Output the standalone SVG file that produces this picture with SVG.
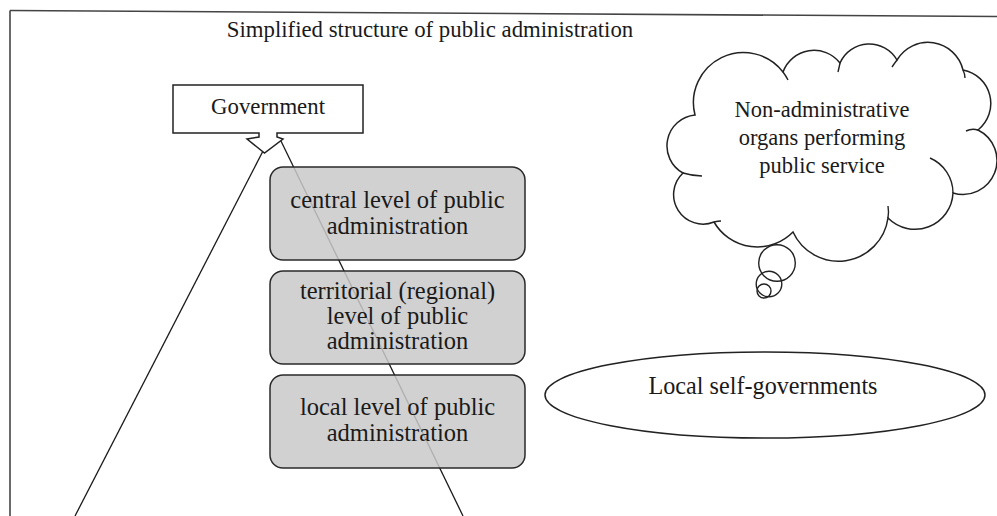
<svg xmlns="http://www.w3.org/2000/svg" width="997" height="516" viewBox="0 0 997 516">
  <style>
    .txt { font-family: "Liberation Serif", "Times New Roman", serif; fill: #1a1a1a; text-anchor: middle; }
    .frame { stroke: #444; stroke-width: 1.6; fill: none; }
    .conn { stroke: #1a1a1a; stroke-width: 1.3; fill: none; }
    .outline { stroke: #222; stroke-width: 1.5; fill: #fff; }
    .level { stroke: #2a2a2a; stroke-width: 1.5; fill: #c9c9c9; fill-opacity: 0.85; }
    .thin { stroke: #222; stroke-width: 1.4; fill: none; }
  </style>

  <rect width="997" height="516" fill="#fff"/>

  <!-- page frame -->
  <g id="frame">
    <line class="frame" x1="10" y1="10.5" x2="997" y2="16.5"/>
    <line class="frame" x1="10" y1="10.5" x2="10" y2="516"/>
  </g>

  <text class="txt" x="430" y="37" font-size="22.8">Simplified structure of public administration</text>

  <!-- connectors fanning out from the Government arrow -->
  <g id="connectors">
    <line class="conn" x1="75" y1="516" x2="263" y2="151"/>
    <line class="conn" x1="463" y1="516" x2="280" y2="139"/>
  </g>

  <g id="government">
    <path class="outline" d="M173,85 H363 V133 H277 V137 L283,139 L264.5,153 L247,139 L259,137 V133 H173 Z"/>
    <text class="txt" x="268" y="114" font-size="22.8">Government</text>
  </g>

  <g id="central-level">
    <rect class="level" x="270" y="167" width="255" height="93" rx="13"/>
    <text class="txt" x="397.5" y="208" font-size="24.5">central level of public</text>
    <text class="txt" x="397.5" y="234" font-size="24.5">administration</text>
  </g>

  <g id="territorial-level">
    <rect class="level" x="270" y="271" width="255" height="93" rx="13"/>
    <text class="txt" x="397.5" y="299" font-size="24.5">territorial (regional)</text>
    <text class="txt" x="397.5" y="324" font-size="24.5">level of public</text>
    <text class="txt" x="397.5" y="349" font-size="24.5">administration</text>
  </g>

  <g id="local-level">
    <rect class="level" x="270" y="375" width="255" height="93" rx="13"/>
    <text class="txt" x="397.5" y="415" font-size="24.5">local level of public</text>
    <text class="txt" x="397.5" y="441" font-size="24.5">administration</text>
  </g>

  <g id="non-administrative-organs">
    <path class="outline" d="M695,115 A50,50 0 0 1 783,72 A33,33 0 0 1 840,63 A32,32 0 0 1 897,60 A36,36 0 0 1 963,70 A34,34 0 0 1 978,130 A34,34 0 0 1 953,193 A38,38 0 0 1 888,218 A50,50 0 0 1 793,232 A50,50 0 0 1 714,222 A29.5,29.5 0 0 1 683,173 A31,31 0 0 1 695,115 Z"/>
    <!-- inner hooks of the cloud bumps -->
    <path class="thin" d="M683,173 Q693,176 702,176"/>
    <path class="thin" d="M953,193 A38,38 0 0 0 930,158"/>
    <path class="thin" d="M783,72 Q786,76 788,80"/>
    <path class="thin" d="M840,63 Q839,68 838,72"/>
    <path class="thin" d="M897,60 Q894,64 892,67"/>
    <path class="thin" d="M963,70 Q965,74 965,78"/>
    <path class="thin" d="M978,130 Q972,128 966,131"/>
    <path class="thin" d="M888,218 Q889,212 888,206"/>
    <path class="thin" d="M714,222 Q718,221 721,221"/>
    <circle class="thin" cx="777" cy="263" r="18.3"/>
    <circle class="thin" cx="769" cy="284" r="12.8"/>
    <circle class="thin" cx="764" cy="291" r="7"/>
    <text class="txt" x="822" y="117" font-size="22.5">Non-administrative</text>
    <text class="txt" x="822" y="145" font-size="22.5">organs performing</text>
    <text class="txt" x="822" y="173" font-size="22.5">public service</text>
  </g>

  <g id="local-self-governments">
    <ellipse class="outline" cx="765" cy="395" rx="220" ry="43"/>
    <text class="txt" x="763" y="394" font-size="24.2">Local self-governments</text>
  </g>
</svg>
